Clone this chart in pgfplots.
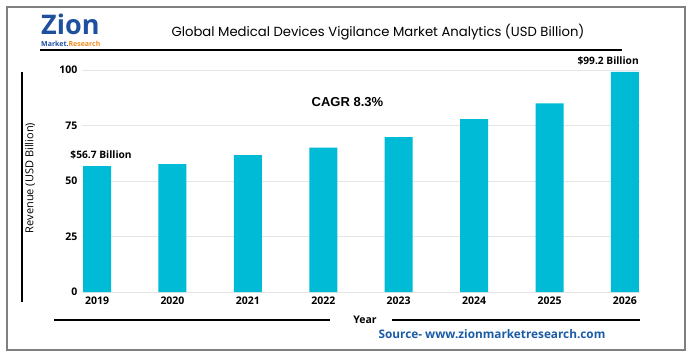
\documentclass[border=0pt]{standalone}
\usepackage{pgfplots}
\pgfplotsset{compat=1.18}
\usepackage{fontspec}
\setmainfont{Open Sans}
\newfontfamily\poppins{Poppins}
\newfontfamily\libsans{Liberation Sans}
\definecolor{barc}{RGB}{0,187,214}
\definecolor{framec}{RGB}{128,128,128}
\definecolor{srcblue}{RGB}{26,91,166}
\definecolor{zblue}{RGB}{30,80,160}
\definecolor{zorange}{RGB}{240,140,30}
\pgfplotstableread{
x val
0 56.7
1 57.6
2 61.7
3 65.0
4 69.8
5 77.9
6 85.0
7 99.2
}\datatable
\begin{document}
\begin{tikzpicture}
\useasboundingbox (0pt,0pt) rectangle (692pt,357pt);
% frame
\draw[framec, line width=2pt] (7pt,7pt) rectangle (685pt,350pt);
% logo
\node[anchor=base west, inner sep=0pt, text=zblue, font=\bfseries\fontsize{27}{27}\selectfont] at (41pt,322pt) {Zion};
\node[anchor=base west, inner sep=0pt, font=\bfseries\fontsize{7}{8}\selectfont] at (41pt,310pt) {\textcolor{zblue}{Market.}\textcolor{zorange}{Research}};
% title
\node[inner sep=0pt, font=\poppins\fontsize{13.2}{15}\selectfont] at (378pt,325pt) {Global Medical Devices Vigilance Market Analytics (USD Billion)};
\draw[black, line width=2pt] (40pt,307pt) -- (622pt,307pt);
% left vertical line
\draw[black, line width=1.5pt] (22pt,285pt) -- (22pt,55pt);
% year lines
\draw[black, line width=2pt] (54pt,37pt) -- (330pt,37pt);
\draw[black, line width=2pt] (392pt,37pt) -- (640pt,37pt);
\node[inner sep=0pt, font=\bfseries\fontsize{10.5}{12}\selectfont] at (365pt,37pt) {Year};
\node[inner sep=0pt, text=srcblue, font=\bfseries\fontsize{11.8}{13}\selectfont] at (492pt,23pt) {Source- www.zionmarketresearch.com};
% y label
\node[rotate=90, inner sep=0pt, font=\fontsize{11}{13}\selectfont] at (30pt,179pt) {Revenue (USD Billion)};
\begin{axis}[
  at={(82pt,65pt)}, anchor=south west,
  scale only axis, width=558pt, height=222pt,
  xmin=-0.2, xmax=7.2, ymin=0, ymax=100,
  axis line style={draw=none},
  xtick={0,...,7},
  xticklabels={2019,2020,2021,2022,2023,2024,2025,2026},
  ytick={0,25,50,75,100},
  ymajorgrids, major grid style={draw=black!10, line width=0.8pt},
  major tick length=0pt,
  tick label style={font=\bfseries\fontsize{10.5}{12}\selectfont},
  /pgf/number format/assume math mode=true,
  yticklabel style={xshift=-1pt},
  xticklabel style={yshift=-1pt},
  clip=false,
]
\addplot[ybar, bar width=28pt, fill=barc, draw=none] table[x=x, y=val] {\datatable};
\node[inner sep=0pt, font=\bfseries\fontsize{10.2}{12}\selectfont] at (axis cs:0,56.7) [xshift=4pt, yshift=11pt] {\$56.7 Billion};
\node[anchor=east, inner sep=0pt, font=\bfseries\fontsize{10.2}{12}\selectfont] at (axis cs:7,99.2) [xshift=14pt, yshift=11pt] {\$99.2 Billion};
\node[inner sep=0pt, font=\libsans\bfseries\fontsize{13}{15}\selectfont] at (axis cs:3.32,85.5) {CAGR 8.3\%};
\end{axis}
\end{tikzpicture}
\end{document}
